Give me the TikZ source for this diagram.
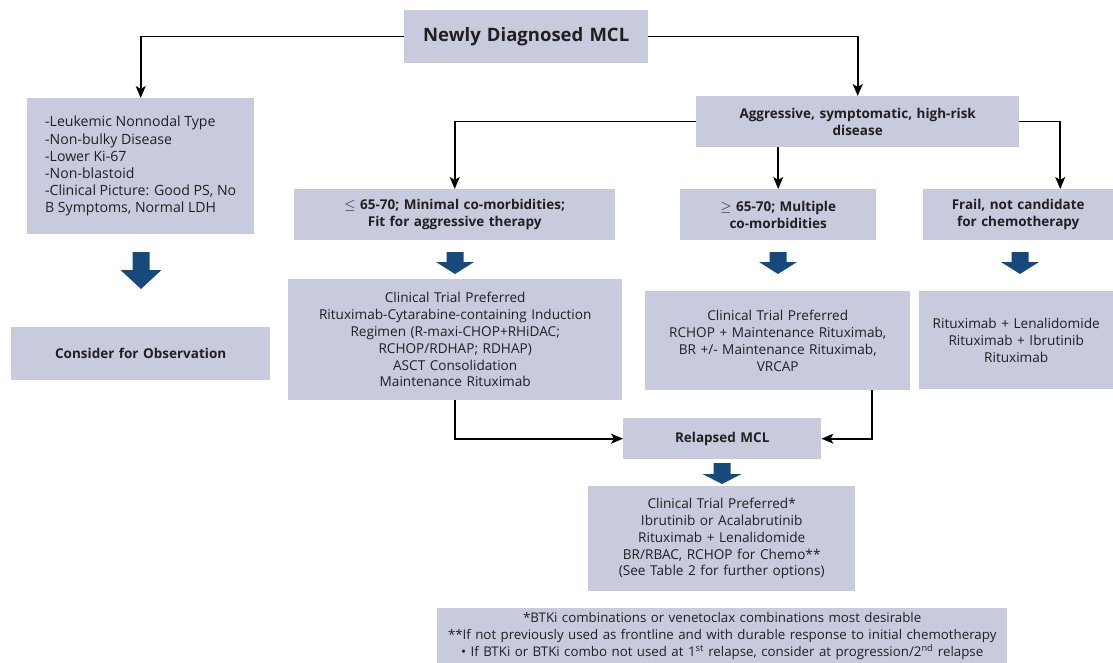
\documentclass[tikz,border=0pt]{standalone}
\usepackage{fontspec}
\setmainfont{Open Sans}
\usetikzlibrary{arrows.meta,calc}
\definecolor{boxgray}{RGB}{200,202,221}
\definecolor{flowblue}{RGB}{22,74,124}
\definecolor{inkblack}{RGB}{35,31,32}
\tikzset{
  box/.style = {fill=boxgray, inner sep=0pt, anchor=north west, align=center,
    text=inkblack, font=\fontsize{13.6}{16.8}\selectfont},
  hdr/.style = {box, font=\bfseries\fontsize{13.5}{16.8}\selectfont},
  flow/.style = {draw=black, line width=1.6pt, -{Stealth[length=12pt,width=10pt,inset=3pt]}},
  pics/blkarrow/.style n args={3}{code={
    \fill[flowblue] (-8.5,0) -- (8.5,0) -- (8.5,#1) -- ({#3/2},#1) -- (0,{#1+#2})
      -- ({-#3/2},#1) -- (-8.5,#1) -- cycle;
  }}
}

\begin{document}
\begin{tikzpicture}[x=1pt,y=-1pt]
  \useasboundingbox (0,0) rectangle (1113,663);
  % boxes
  \node[hdr, text width=244pt, minimum height=53pt, font=\bfseries\fontsize{18.5}{20}\selectfont] (diag) at (404,10) {Newly Diagnosed MCL};
  \node[box, align=left, minimum width=227pt, minimum height=136pt, font=\fontsize{14.1}{17.2}\selectfont] (lowrisk) at (27,98)
    {-Leukemic Nonnodal Type\\-Non-bulky Disease\\-Lower Ki-67\\-Non-blastoid\\-Clinical Picture: Good PS, No\\B Symptoms, Normal LDH};
  \node[hdr, text width=323pt, minimum height=51pt] (aggr) at (696,96) {Aggressive, symptomatic, high-risk\\disease};
  \node[hdr, text width=321pt, minimum height=51pt] (fit) at (294,189) {{\mdseries$\leq$} 65-70; Minimal co-morbidities;\\Fit for aggressive therapy};
  \node[hdr, text width=196pt, minimum height=51pt] (unfit) at (680,189) {{\mdseries$\geq$} 65-70; Multiple\\co-morbidities};
  \node[hdr, text width=190pt, minimum height=51pt] (frail) at (923,189) {Frail, not candidate\\for chemotherapy};
  \node[hdr, text width=259pt, minimum height=53pt] (observe) at (11,327) {Consider for Observation};
  \node[box, text width=334pt, minimum height=121pt] (intense) at (288,279)
    {Clinical Trial Preferred\\Rituximab-Cytarabine-containing Induction\\Regimen (R-maxi-CHOP+RHiDAC;\\RCHOP/RDHAP; RDHAP)\\ASCT Consolidation\\Maintenance Rituximab};
  \node[box, text width=265pt, minimum height=99pt] (moderate) at (645,291)
    {Clinical Trial Preferred\\RCHOP + Maintenance Rituximab,\\BR +/- Maintenance Rituximab,\\VRCAP};
  \node[box, text width=194pt, minimum height=98pt] (mild) at (919,291)
    {Rituximab + Lenalidomide\\Rituximab + Ibrutinib\\Rituximab};
  \node[hdr, text width=198pt, minimum height=41pt] (relapse) at (623,418) {Relapsed MCL};
  \node[box, text width=267pt, minimum height=105pt] (salvage) at (588,486)
    {Clinical Trial Preferred*\\Ibrutinib or Acalabrutinib\\Rituximab + Lenalidomide\\BR/RBAC, RCHOP for Chemo**\\(See Table 2 for further options)};
  \node[box, text width=570pt, minimum height=56pt, font=\fontsize{13.3}{16.8}\selectfont] (notes) at (437,608)
    {*BTKi combinations or venetoclax combinations most desirable\\{}**If not previously used as frontline and with durable response to initial chemotherapy\\{}\textbullet{} If BTKi or BTKi combo not used at 1\textsuperscript{st} relapse, consider at progression/2\textsuperscript{nd} relapse};
  % connectors
  \draw[flow] (diag.west) -| (lowrisk.north);
  \draw[flow] (diag.east) -| (aggr.north);
  \draw[flow] (aggr.west) -| (fit.north);
  \draw[flow] (aggr.south -| unfit.north) -- (unfit.north);
  \draw[flow] (aggr.east) -| ([xshift=42pt]frail.north);
  \draw[flow] (intense.south) |- (relapse.west);
  \draw[flow] ([xshift=94.5pt]moderate.south) |- (relapse.east);
  % block arrows
  \pic at (141,252) {blkarrow={18}{19}{41}};
  \pic at (455,252) {blkarrow={10}{12}{38}};
  \pic at (778,252) {blkarrow={10}{12}{38}};
  \pic at (1020,252) {blkarrow={10}{12}{38}};
  \pic at (722,463) {blkarrow={11}{10}{39}};
\end{tikzpicture}
\end{document}
